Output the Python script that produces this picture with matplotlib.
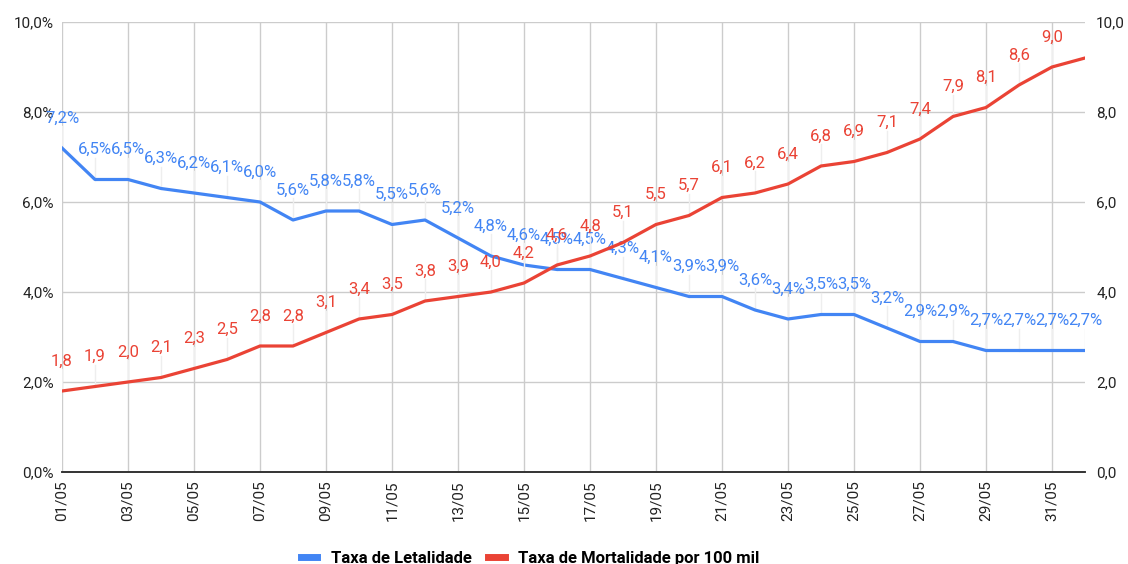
import matplotlib

matplotlib.use("Agg")
import matplotlib.pyplot as plt
from matplotlib.lines import Line2D

plt.rcParams["font.family"] = ["Roboto", "DejaVu Sans"]

dates = [f"{d:02d}/05" for d in range(1, 32)] + ["01/06"]

letalidade = [7.2, 6.5, 6.5, 6.3, 6.2, 6.1, 6.0, 5.6, 5.8, 5.8, 5.5, 5.6, 5.2, 4.8,
              4.6, 4.5, 4.5, 4.3, 4.1, 3.9, 3.9, 3.6, 3.4, 3.5, 3.5, 3.2, 2.9, 2.9,
              2.7, 2.7, 2.7, 2.7]
mortalidade = [1.8, 1.9, 2.0, 2.1, 2.3, 2.5, 2.8, 2.8, 3.1, 3.4, 3.5, 3.8, 3.9, 4.0,
               4.2, 4.6, 4.8, 5.1, 5.5, 5.7, 6.1, 6.2, 6.4, 6.8, 6.9, 7.1, 7.4, 7.9,
               8.1, 8.6, 9.0, 9.2]

BLUE = "#4285F4"
RED = "#EA4335"
x = list(range(len(dates)))

fig = plt.figure(figsize=(11.28, 5.64), dpi=100)
ax = fig.add_axes([62 / 1128, 1 - 472 / 564, (1085 - 62) / 1128, 450 / 564])
ax2 = ax.twinx()

ax.set_xlim(0, len(dates) - 1)
ax.set_ylim(0, 10)
ax2.set_ylim(0, 10)

ax.set_xticks(x[::2])
ax.set_xticklabels(dates[::2], rotation=90, fontsize=11, color="#222222")
yt = [0, 2, 4, 6, 8, 10]
ax.set_yticks(yt)
ax.set_yticklabels([f"{v:.1f}%".replace(".", ",") for v in yt], fontsize=11, color="#222222")
ax2.set_yticks(yt)
ax2.set_yticklabels([f"{v:.1f}".replace(".", ",") for v in yt], fontsize=11, color="#222222")
ax.tick_params(length=0, pad=6)
ax2.tick_params(length=0, pad=8)
ax.grid(True, color="#cccccc", linewidth=1)
for a in (ax, ax2):
    for s in ("top", "left", "right"):
        a.spines[s].set_visible(False)
    a.spines["bottom"].set_color("#333333")
    a.spines["bottom"].set_linewidth(1.2)

ax.plot(x, letalidade, color=BLUE, linewidth=2.3, zorder=3)
ax2.plot(x, mortalidade, color=RED, linewidth=2.3, zorder=3)

for xi, v in zip(x, letalidade):
    ax.annotate(f"{v:.1f}%".replace(".", ","), (xi, v), xytext=(0, 30),
                textcoords="offset pixels", ha="center", va="center",
                fontsize=12, color=BLUE)
    ax.plot([xi, xi], [v, v + 22 / 45], color="#eeeeee", linewidth=1, zorder=2)

for xi, v in zip(x[:-1], mortalidade[:-1]):
    ax2.annotate(f"{v:.1f}".replace(".", ","), (xi, v), xytext=(0, 30),
                 textcoords="offset pixels", ha="center", va="center",
                 fontsize=12, color=RED)
    ax2.plot([xi, xi], [v, v + 22 / 45], color="#eeeeee", linewidth=1, zorder=2)

handles = [Line2D([], [], color=BLUE, linewidth=5),
           Line2D([], [], color=RED, linewidth=5)]
fig.legend(handles, ["Taxa de Letalidade", "Taxa de Mortalidade por 100 mil"],
           loc="lower center", bbox_to_anchor=(530 / 1128, -0.03), ncol=2,
           frameon=False, handlelength=1.0, columnspacing=1.0,
           prop={"weight": "bold", "size": 12})

fig.savefig("out.png", dpi=100)
